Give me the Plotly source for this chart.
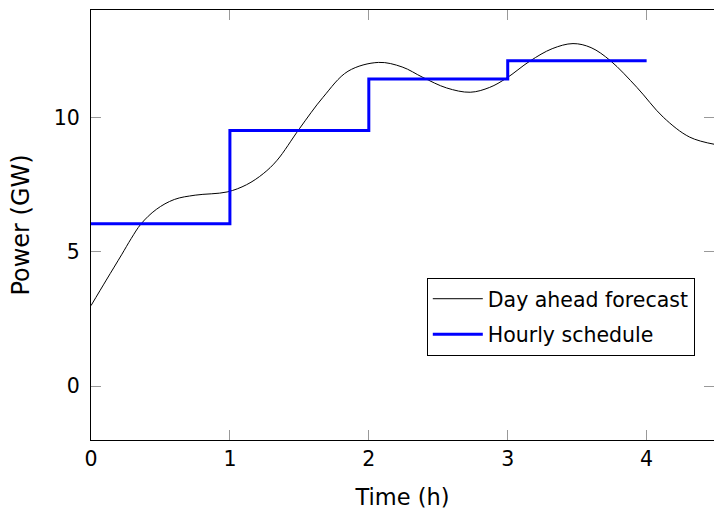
import plotly.graph_objects as go

forecast_x = [0, 0.11, 0.22, 0.29, 0.36, 0.47, 0.60, 0.75, 0.98, 1.12, 1.24, 1.34,
              1.50, 1.67, 1.85, 2.07, 2.24, 2.39, 2.56, 2.73, 2.87, 2.99, 3.16, 3.32,
              3.47, 3.60, 3.74, 3.93, 4.12, 4.31, 4.5]
forecast_y = [3.0, 3.95, 4.89, 5.5, 6.04, 6.58, 6.95, 7.11, 7.23, 7.5, 7.91, 8.41,
              9.58, 10.75, 11.72, 12.05, 11.88, 11.49, 11.1, 10.94, 11.12, 11.46, 12.1, 12.56,
              12.75, 12.6, 12.11, 11.12, 10.01, 9.27, 8.99]

schedule_x = [0, 1, 2, 3, 4]
schedule_y = [6.05, 9.52, 11.43, 12.11, 12.11]

x_ticks = [0, 1, 2, 3, 4]
y_ticks = [0, 5, 10]

FONT = "DejaVu Sans"
FS = 20.5

fig = go.Figure()
fig.add_trace(go.Scatter(x=forecast_x, y=forecast_y, mode="lines",
                         line=dict(color="black", width=1, shape="spline", smoothing=1.0),
                         name="Day ahead forecast", legendgroup="a"))
fig.add_trace(go.Scatter(x=schedule_x, y=schedule_y, mode="lines",
                         line=dict(color="rgb(0,0,255)", width=3, shape="hv"),
                         name="Hourly schedule", legendgroup="b"))

fig.update_layout(
    width=714, height=514,
    margin=dict(l=91, r=0, t=10, b=74),
    paper_bgcolor="white", plot_bgcolor="white",
    font=dict(family=FONT, size=FS, color="black"),
    showlegend=True,
    legend=dict(x=0.539, y=0.377, xanchor="left", yanchor="top",
                bordercolor="black", borderwidth=1, bgcolor="white",
                font=dict(family=FONT, size=FS), tracegroupgap=6, itemwidth=50,
                traceorder="grouped"),
    xaxis=dict(range=[0, 4.485], tickvals=x_ticks, ticks="inside", ticklen=10,
               tickcolor="#999999", showline=True, linecolor="black", linewidth=1.3,
               mirror="ticks", showgrid=False, zeroline=False,
               title=dict(text="Time (h)", standoff=19,
                          font=dict(family=FONT, size=22.5, color="black"))),
    yaxis=dict(range=[-2, 14], tickvals=y_ticks, ticks="inside", ticklen=10,
               tickcolor="#999999", showline=True, linecolor="black", linewidth=1.3,
               mirror="ticks", showgrid=False, zeroline=False, ticklabelstandoff=6,
               title=dict(text="Power (GW)", standoff=17,
                          font=dict(family=FONT, size=24, color="black"))),
)

fig.write_html("out.html")
